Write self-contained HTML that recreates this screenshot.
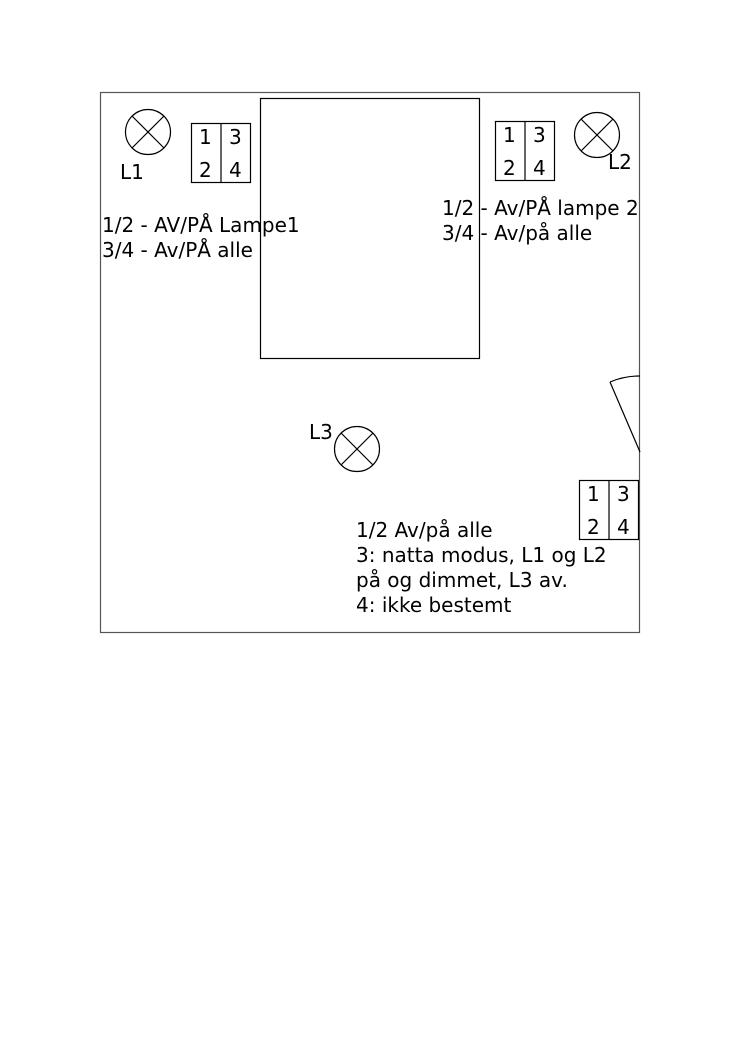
<!DOCTYPE html>
<html><head><meta charset="utf-8"><style>
html,body{margin:0;padding:0;background:#fff}
svg text{font-family:"DejaVu Sans","Liberation Sans",sans-serif;font-size:20px;fill:#000}
</style></head><body>
<svg width="745" height="1053" viewBox="0 0 745 1053" xmlns="http://www.w3.org/2000/svg">
<g fill="none" stroke="#000" stroke-width="1.2">
<rect x="100.5" y="92.5" width="539" height="540" stroke="#555"/>
<rect x="260.5" y="98.5" width="219" height="260"/>
<circle cx="148" cy="132" r="22.5"/>
<line x1="132" y1="116" x2="164" y2="148"/><line x1="164" y1="116" x2="132" y2="148"/>
<circle cx="597" cy="135" r="22.5"/>
<line x1="581" y1="119" x2="613" y2="151"/><line x1="613" y1="119" x2="581" y2="151"/>
<circle cx="357" cy="449" r="22.5"/>
<line x1="341" y1="433" x2="373" y2="465"/><line x1="373" y1="433" x2="341" y2="465"/>
<rect x="191.5" y="123.5" width="59" height="59"/><line x1="221" y1="123" x2="221" y2="183"/>
<rect x="495.5" y="121.5" width="59" height="59"/><line x1="525" y1="121" x2="525" y2="181"/>
<rect x="579.5" y="480.5" width="59" height="59"/><line x1="609" y1="480" x2="609" y2="540"/>
<line x1="640" y1="452" x2="610" y2="382"/>
<path d="M610 382 A76 76 0 0 1 640 376"/>
</g>
<text x="120" y="179">L1</text>
<text x="608" y="169">L2</text>
<text x="309" y="439">L3</text>
<text x="199" y="144">1</text><text x="229" y="144">3</text>
<text x="199" y="177">2</text><text x="229" y="177">4</text>
<text x="503" y="142">1</text><text x="533" y="142">3</text>
<text x="503" y="175">2</text><text x="533" y="175">4</text>
<text x="587" y="501">1</text><text x="617" y="501">3</text>
<text x="587" y="534">2</text><text x="617" y="534">4</text>
<text x="102" y="232">1/2 - AV/PÅ Lampe1</text>
<text x="102" y="257">3/4 - Av/PÅ alle</text>
<text x="442" y="215">1/2 - Av/PÅ lampe 2</text>
<text x="442" y="240">3/4 - Av/på alle</text>
<text x="356" y="537">1/2 Av/på alle</text>
<text x="356" y="562">3: natta modus, L1 og L2</text>
<text x="356" y="587">på og dimmet, L3 av.</text>
<text x="356" y="612">4: ikke bestemt</text>
</svg>
</body></html>
